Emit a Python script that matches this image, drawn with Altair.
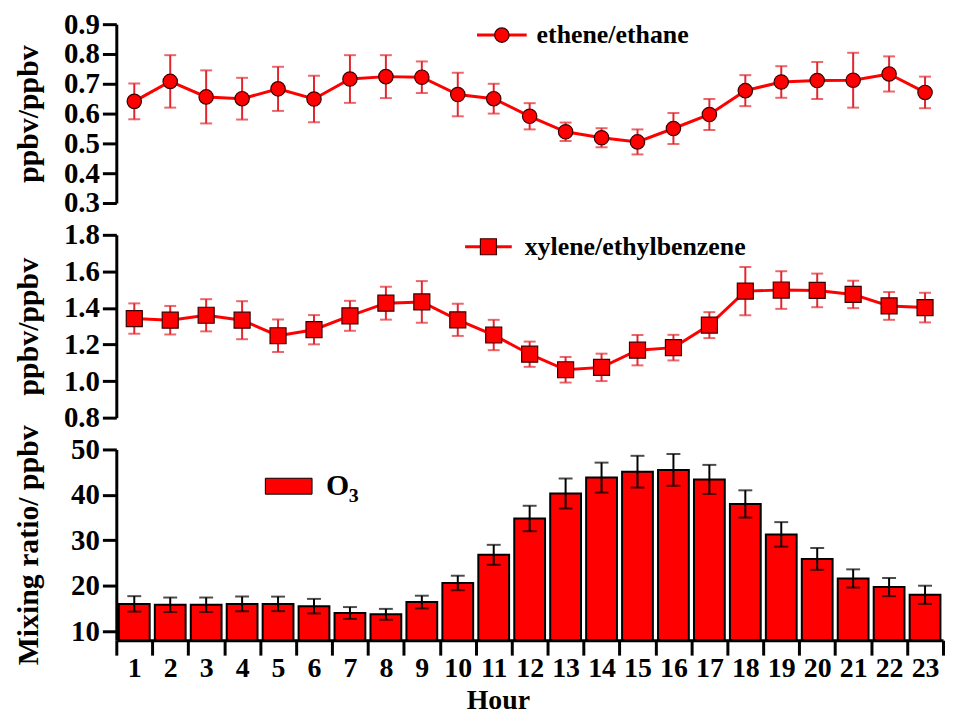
import altair as alt
import pandas as pd

hours = list(range(1, 24))
ethene_ethane = [0.641, 0.708, 0.656, 0.650, 0.683, 0.649, 0.716, 0.724, 0.722, 0.664, 0.650, 0.591,
                 0.539, 0.519, 0.505, 0.550, 0.597, 0.677, 0.706, 0.711, 0.712, 0.733, 0.671]
ethene_ethane_err = [0.060, 0.088, 0.089, 0.070, 0.074, 0.078, 0.080, 0.072, 0.053, 0.073, 0.050, 0.044,
                     0.031, 0.032, 0.042, 0.052, 0.052, 0.052, 0.053, 0.062, 0.092, 0.059, 0.053]
xylene_eb = [1.342, 1.333, 1.360, 1.333, 1.248, 1.281, 1.357, 1.426, 1.433, 1.335, 1.252, 1.147,
             1.062, 1.075, 1.169, 1.183, 1.306, 1.492, 1.498, 1.496, 1.474, 1.411, 1.402]
xylene_eb_err = [0.083, 0.078, 0.088, 0.104, 0.089, 0.080, 0.082, 0.090, 0.114, 0.088, 0.083, 0.069,
                 0.070, 0.075, 0.083, 0.070, 0.071, 0.132, 0.103, 0.092, 0.075, 0.076, 0.081]
o3 = [16.0, 15.8, 15.8, 16.0, 16.0, 15.5, 14.0, 13.7, 16.4, 20.6, 26.8, 34.8,
      40.3, 43.8, 45.1, 45.5, 43.4, 38.0, 31.3, 25.9, 21.6, 19.7, 18.0]
o3_err = [1.7, 1.6, 1.6, 1.6, 1.6, 1.6, 1.3, 1.2, 1.4, 1.6, 2.2, 2.8,
          3.3, 3.3, 3.5, 3.5, 3.2, 3.0, 2.7, 2.4, 2.0, 2.0, 2.0]

FONT = "Liberation Serif"
RED = "#ff0000"
ERR_RED = "#e3262e"
W = 832


def frame(vals, errs):
    return pd.DataFrame({
        "hour": hours,
        "v": vals,
        "lo": [a - b for a, b in zip(vals, errs)],
        "hi": [a + b for a, b in zip(vals, errs)],
    })


df1 = frame(ethene_ethane, ethene_ethane_err)
df2 = frame(xylene_eb, xylene_eb_err)
df3 = frame(o3, o3_err)
one = pd.DataFrame({"k": [0]})

xscale = alt.Scale(domain=hours, paddingInner=0, paddingOuter=0)


def yaxis(title, values, fmt, h):
    return alt.Axis(values=values, format=fmt, title=title, titleX=-88, titleY=h / 2,
                    titleAngle=-90, titleAlign="center", titleBaseline="middle",
                    tickSize=14, tickWidth=3, domainWidth=3, labelPadding=3,
                    labelOverlap=False, labelBound=False, grid=False)


def line_panel(df, h, dom, ticks, fmt, shape, size, legend_text, leg):
    ax = yaxis("ppbv/ppbv", ticks, fmt, h)
    sc = alt.Scale(domain=dom, nice=False, zero=False)
    x = alt.X("hour:O", scale=xscale, axis=None)
    y = alt.Y("v:Q", scale=sc, axis=ax)
    ylo = alt.Y("lo:Q", scale=sc, axis=ax)
    yhi = alt.Y("hi:Q", scale=sc, axis=ax)
    base = alt.Chart(df)
    line = base.mark_line(color=RED, strokeWidth=3).encode(x=x, y=y)
    rule = base.mark_rule(color=ERR_RED, strokeWidth=2).encode(x=x, y=ylo, y2="hi:Q")
    cap_lo = base.mark_tick(color=ERR_RED, thickness=2, size=12).encode(x=x, y=ylo)
    cap_hi = base.mark_tick(color=ERR_RED, thickness=2, size=12).encode(x=x, y=yhi)
    pts = base.mark_point(shape=shape, filled=True, color=RED, stroke="#3a0000",
                          strokeWidth=1.2, size=size, opacity=1).encode(x=x, y=y)
    lx0, lx1, ly, tx = leg
    lg_line = alt.Chart(one).mark_rule(color=RED, strokeWidth=3).encode(
        x=alt.value(lx0), x2=alt.value(lx1), y=alt.value(ly))
    lg_pt = alt.Chart(one).mark_point(shape=shape, filled=True, color=RED, stroke="#3a0000",
                                      strokeWidth=1.2, size=size, opacity=1).encode(
        x=alt.value((lx0 + lx1) / 2), y=alt.value(ly))
    lg_txt = alt.Chart(one).mark_text(align="left", baseline="middle", font=FONT,
                                      fontWeight="bold", fontSize=26, color="black").encode(
        x=alt.value(tx), y=alt.value(ly), text=alt.value(legend_text))
    return alt.layer(line, rule, cap_lo, cap_hi, pts, lg_line, lg_pt, lg_txt).properties(
        width=W, height=h)


top = line_panel(df1, 180, [0.3, 0.9], [0.3, 0.4, 0.5, 0.6, 0.7, 0.8, 0.9], ".1f",
                 "circle", 210, "ethene/ethane", (363, 413, 11, 423))
mid = line_panel(df2, 184, [0.8, 1.8], [0.8, 1.0, 1.2, 1.4, 1.6, 1.8], ".1f",
                 "square", 260, "xylene/ethylbenzene", (351, 398, 12, 411))

HB = 192
xb = alt.X("hour:O", scale=xscale,
           axis=alt.Axis(title="Hour", tickBand="extent", labelAngle=0, tickSize=15,
                         tickWidth=3, domainWidth=3, labelPadding=0, labelFontSize=28,
                         grid=False, titleX=384, titleY=69, titleAlign="center",
                         titleBaseline="alphabetic", titleFontSize=28))
bax = yaxis("Mixing ratio/ ppbv", [10, 20, 30, 40, 50], "d", HB)
bsc = alt.Scale(domain=[8, 50], nice=False, zero=False)
yb = alt.Y("v:Q", scale=bsc, axis=bax)
yblo = alt.Y("lo:Q", scale=bsc, axis=bax)
ybhi = alt.Y("hi:Q", scale=bsc, axis=bax)
bb = alt.Chart(df3)
bars = bb.mark_bar(size=31, color=RED, stroke="black", strokeWidth=2).encode(
    x=xb, y=yb, y2=alt.datum(8))
brule = bb.mark_rule(color="black", strokeWidth=2).encode(x=xb, y=yblo, y2="hi:Q")
bcap_lo = bb.mark_tick(color="black", thickness=2, size=14).encode(x=xb, y=yblo)
bcap_hi = bb.mark_tick(color="black", thickness=2, size=14).encode(x=xb, y=ybhi)
lg_rect = alt.Chart(one).mark_rect(color=RED, stroke="black", strokeWidth=1).encode(
    x=alt.value(150), x2=alt.value(197), y=alt.value(29), y2=alt.value(45))
lg_o = alt.Chart(one).mark_text(align="left", baseline="middle", font=FONT, fontWeight="bold",
                                fontSize=30, color="black").encode(
    x=alt.value(211), y=alt.value(37), text=alt.value("O"))
lg_3 = alt.Chart(one).mark_text(align="left", baseline="middle", font=FONT, fontWeight="bold",
                                fontSize=20, color="black").encode(
    x=alt.value(234), y=alt.value(47), text=alt.value("3"))
bot = alt.layer(bars, brule, bcap_lo, bcap_hi, lg_rect, lg_o, lg_3).properties(width=W, height=HB)

chart = alt.vconcat(top, mid, bot, spacing=32, bounds="flush").properties(
    padding={"left": 5, "top": 0, "right": 0, "bottom": 0}
).configure_axis(
    labelFont=FONT, labelFontWeight="bold", labelFontSize=29, labelColor="black",
    titleFont=FONT, titleFontWeight="bold", titleFontSize=30, titleColor="black",
    domainColor="black", tickColor="black"
).configure_view(stroke=None)

chart.save("out.html", embed_options={"renderer": "svg", "actions": False})
